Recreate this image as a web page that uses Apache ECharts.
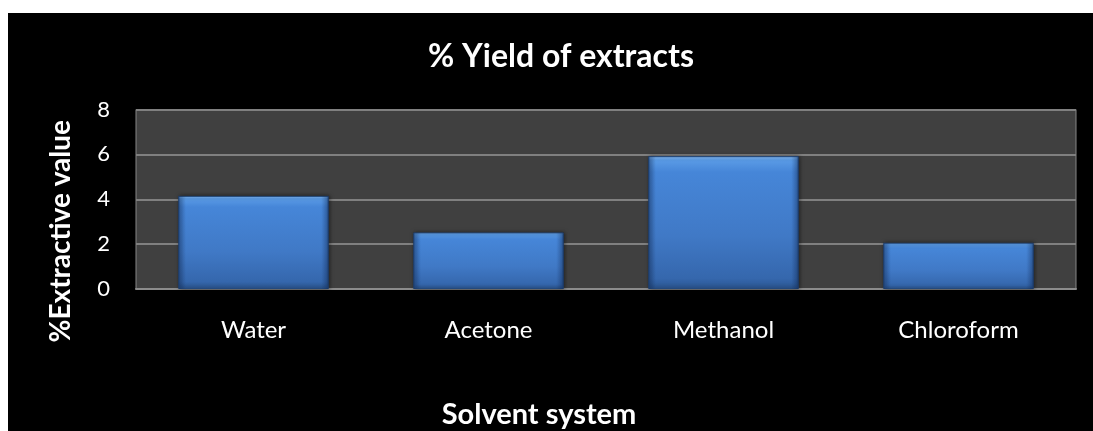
<!DOCTYPE html>
<html>
<head>
<meta charset="utf-8">
<script src="https://cdn.jsdelivr.net/npm/echarts@6/dist/echarts.min.js"></script>
<style>
html,body{margin:0;padding:0;background:#fff;width:1093px;height:431px;overflow:hidden;}
#c{position:absolute;left:8px;top:13px;width:1085px;height:418px;background:#000;}
</style>
</head>
<body>
<div id="c"></div>
<script>
const categories = ['Water', 'Acetone', 'Methanol', 'Chloroform'];
const yieldValues = [4.15, 2.52, 5.92, 2.06];
const yTicks = { min: 0, max: 8, interval: 2 };
const titleText = '% Yield of extracts';
const xAxisTitle = 'Solvent system';
const yAxisTitle = '%Extractive value';

const chart = echarts.init(document.getElementById('c'), null, { renderer: 'canvas' });
const fontFam = 'Lato, "Open Sans", sans-serif';
chart.setOption({
  backgroundColor: '#000',
  animation: false,
  title: [{
    text: titleText,
    left: 548,
    textAlign: 'center',
    top: 23,
    textStyle: { color: '#fff', fontFamily: fontFam, fontWeight: 'bold', fontSize: 32 }
  }, {
    text: xAxisTitle,
    left: 531,
    textAlign: 'center',
    top: 387,
    padding: 0,
    textStyle: { color: '#fff', fontFamily: fontFam, fontWeight: 'bold', fontSize: 29 }
  }],
  grid: {
    left: 128, right: 17, top: 96.5, bottom: 142,
    show: true, backgroundColor: '#404040', borderColor: '#868686', borderWidth: 1
  },
  xAxis: {
    type: 'category',
    data: categories,
    axisLine: { show: true, lineStyle: { color: '#8c8c8c', width: 2 } },
    axisTick: { show: false },
    axisLabel: { color: '#fff', fontFamily: fontFam, fontSize: 24, margin: 29 },
    splitLine: { show: false }
  },
  yAxis: {
    type: 'value',
    min: yTicks.min, max: yTicks.max, interval: yTicks.interval,
    name: yAxisTitle,
    nameLocation: 'middle',
    nameRotate: 90,
    nameGap: 61,
    nameTextStyle: { color: '#fff', fontFamily: fontFam, fontWeight: 'bold', fontSize: 28, padding: [0, 64, 0, 0] },
    axisLine: { show: false },
    axisTick: { show: false },
    axisLabel: { color: '#fff', fontFamily: fontFam, fontSize: 22, margin: 26 },
    splitLine: { show: true, lineStyle: { color: '#808080', width: 2 } }
  },
  series: [{
    type: 'bar',
    data: yieldValues,
    barWidth: '64%',
    itemStyle: {
      color: new echarts.graphic.LinearGradient(0, 0, 0, 1, [
        { offset: 0, color: '#8cc4ff' },
        { offset: 0.03, color: '#5a9be6' },
        { offset: 0.12, color: '#4686d8' },
        { offset: 0.6, color: '#4079c6' },
        { offset: 0.92, color: '#3567ad' },
        { offset: 1, color: '#2a5590' }
      ]),
      borderColor: '#244a7e',
      borderWidth: 1,
      shadowColor: 'rgba(0,0,0,0.5)',
      shadowBlur: 4,
      shadowOffsetX: 1
    }
  }, {
    type: 'bar',
    data: yieldValues,
    barWidth: '64%',
    barGap: '-100%',
    silent: true,
    itemStyle: {
      color: new echarts.graphic.LinearGradient(0, 0, 1, 0, [
        { offset: 0, color: 'rgba(10,30,70,0.35)' },
        { offset: 0.05, color: 'rgba(10,30,70,0)' },
        { offset: 0.95, color: 'rgba(10,30,70,0)' },
        { offset: 1, color: 'rgba(10,30,70,0.4)' }
      ])
    }
  }]
});
</script>
</body>
</html>
